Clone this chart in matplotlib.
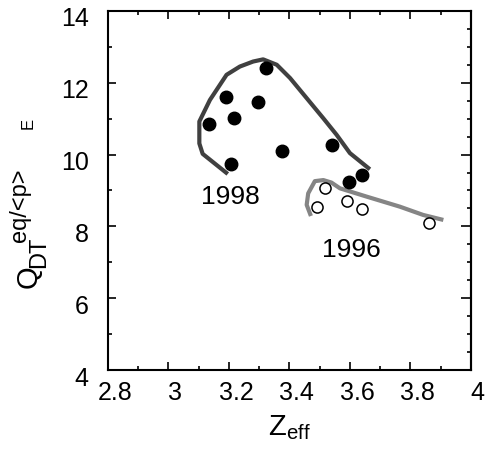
import matplotlib
matplotlib.use("Agg")
import matplotlib.pyplot as plt
from matplotlib.ticker import MultipleLocator
from matplotlib.transforms import ScaledTranslation

plt.rcParams['font.family'] = ['Liberation Sans', 'DejaVu Sans']
plt.rcParams['mathtext.default'] = 'regular'

# 1998 shots (filled) and 1996 shots (open)
z98 = [3.135, 3.19, 3.218, 3.208, 3.295, 3.321, 3.375, 3.540, 3.596, 3.640]
q98 = [10.85, 11.61, 11.01, 9.74, 11.46, 12.40, 10.11, 10.26, 9.23, 9.44]
z96 = [3.491, 3.517, 3.589, 3.640, 3.861]
q96 = [8.55, 9.06, 8.71, 8.48, 8.10]

# trend curves
cz98 = [3.196, 3.113, 3.102, 3.102, 3.137, 3.192, 3.236, 3.280, 3.313, 3.358,
        3.402, 3.457, 3.512, 3.556, 3.600, 3.666]
cq98 = [9.46, 10.02, 10.31, 10.92, 11.52, 12.22, 12.45, 12.59, 12.65, 12.50,
        12.13, 11.57, 11.01, 10.55, 10.04, 9.59]
cz96 = [3.471, 3.457, 3.462, 3.484, 3.512, 3.539, 3.567, 3.655, 3.765, 3.842, 3.909]
cq96 = [8.29, 8.60, 8.92, 9.26, 9.29, 9.22, 9.06, 8.83, 8.55, 8.32, 8.18]

xt = [2.8, 3.0, 3.2, 3.4, 3.6, 3.8, 4.0]
xtl = ['2.8', '3', '3.2', '3.4', '3.6', '3.8', '4']
yt = [4, 6, 8, 10, 12, 14]
ytl = ['4', '6', '8', '10', '12', '14']

W, H = 491, 453
fig = plt.figure(figsize=(W / 100, H / 100), dpi=100)
ax = fig.add_axes([0.22, 0.183, 0.739, 0.793])

ax.plot(cz98, cq98, color='#404040', lw=3, solid_capstyle='butt', zorder=2)
ax.plot(cz96, cq96, color='#858585', lw=3, solid_capstyle='butt', zorder=2)
ax.plot(z98, q98, 'o', color='black', ms=9, zorder=3)
ax.plot(z96, q96, 'o', mfc='white', mec='black', mew=1.1, ms=8, zorder=3)

ax.text(3.203, 8.83, '1998', fontsize=19, ha='center', va='center')
ax.text(3.606, 7.34, '1996', fontsize=19, ha='center', va='center')

ax.set_xlim(2.8, 4.0)
ax.set_ylim(4, 14)
ax.xaxis.set_minor_locator(MultipleLocator(0.1))
ax.yaxis.set_minor_locator(MultipleLocator(1))
ax.set_xticks(xt)
ax.set_xticklabels(xtl)
ax.set_yticks(yt)
ax.set_yticklabels(ytl)

ax.tick_params(which='both', direction='in', top=True, right=False, labelsize=18, width=1.2)
ax.tick_params(which='major', length=6)
ax.tick_params(which='minor', length=3)
ax.tick_params(axis='x', pad=8)
ax.tick_params(axis='y', pad=14)
for s in ax.spines.values():
    s.set_linewidth(1.5)

# reference labels sit a little off their ticks
for lab in ax.get_xticklabels():
    lab.set_transform(lab.get_transform() + ScaledTranslation(0.07, 0, fig.dpi_scale_trans))
for lab in ax.get_yticklabels():
    lab.set_transform(lab.get_transform() + ScaledTranslation(0, -0.06, fig.dpi_scale_trans))

sec = ax.secondary_yaxis('right')
sec.yaxis.set_major_locator(MultipleLocator(2))
sec.yaxis.set_minor_locator(MultipleLocator(0.5))
sec.tick_params(which='both', direction='in', labelright=False, width=1.2)
sec.tick_params(which='major', length=7)
sec.tick_params(which='minor', length=3)
sec.spines['right'].set_linewidth(1.5)

ax.set_xlabel(r'$\mathregular{Z_{eff}}$', fontsize=21, labelpad=6)

# y label pieced together: Q, subscript DT, superscript eq/<p>, small E
def ylab(s, px, py, size):
    fig.text(px / W, 1 - py / H, s, fontsize=size, rotation=90,
             rotation_mode='anchor', ha='center', va='baseline')

ylab('Q', 37, 277, 21)
ylab('DT', 45, 252, 17)
ylab('eq/<p>', 26, 205, 17)
ylab('E', 33, 123, 12)

fig.savefig('out.png', dpi=100)
